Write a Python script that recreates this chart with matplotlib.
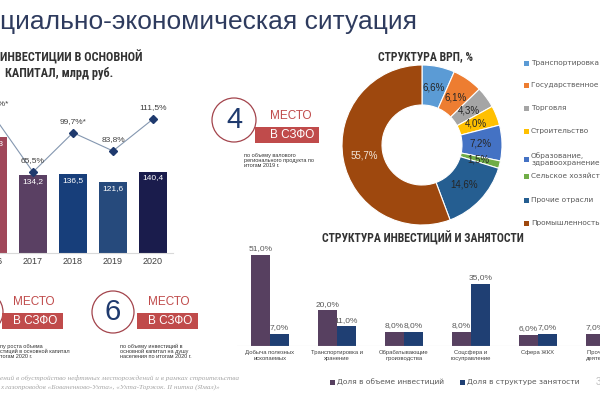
import matplotlib
matplotlib.use('Agg')
import matplotlib.pyplot as plt
import numpy as np
from matplotlib import font_manager
from matplotlib.patches import Circle, Rectangle

# инвестиции в основной капитал
years = ['2016', '2017', '2018', '2019', '2020']
invest = [199.3, 134.2, 136.5, 121.6, 140.4]
growth = [115.0, 65.5, 99.7, 83.8, 111.5]
growth_mark = ['*', '', '*', '', '']

# структура ВРП
grp_labels = ['Транспортировка', 'Государственное управление', 'Торговля',
              'Строительство', 'Образование,\nздравоохранение',
              'Сельское хозяйство', 'Прочие отрасли', 'Промышленность']
grp_share = [6.6, 6.1, 4.3, 4.0, 7.2, 1.5, 14.6, 55.7]

# структура инвестиций и занятости
sectors = ['Добыча полезных\nископаемых', 'Транспортировка и\nхранение',
           'Обрабатывающие\nпроизводства', 'Соцсфера и\nгосуправление',
           'Сфера ЖКХ', 'Прочие виды\nдеятельности']
inv_share = [51.0, 20.0, 8.0, 8.0, 6.0, 7.0]
emp_share = [7.0, 11.0, 8.0, 35.0, 7.0, 32.0]
series_names = ['Доля в объеме инвестиций', 'Доля в структуре занятости']

plt.rcParams['font.family'] = ['Liberation Sans', 'DejaVu Sans']


def pick_condensed():
    # ищем узкий шрифт для заголовков
    names = {f.name for f in font_manager.fontManager.ttflist}
    for nm in ['Roboto Condensed', 'Liberation Sans Narrow', 'Open Sans Condensed']:
        if nm in names:
            return nm, 'normal'
    for f in font_manager.fontManager.ttflist:
        if f.name in ('DejaVu Sans', 'Noto Sans', 'Open Sans', 'Roboto') and \
                str(f.stretch) in ('condensed', 'semi-condensed'):
            return f.name, f.stretch
    return 'Liberation Sans', 'normal'


NARROW, STRETCH = pick_condensed()
HEAD = dict(family=[NARROW, 'DejaVu Sans'], fontstretch=STRETCH, fontweight='bold',
            color='#333333')

W, H = 600, 400
RED = '#C04B4B'
NAVY = '#1F3A6E'
GRAY = '#404040'


def box(x0, y0, x1, y1):
    # пиксели -> доли фигуры
    return [x0 / W, 1 - y1 / H, (x1 - x0) / W, (y1 - y0) / H]


def num(v, suffix=''):
    return f'{v:.1f}'.replace('.', ',') + suffix


fig = plt.figure(figsize=(6, 4), dpi=100)

# фон с текстами и плашками, координаты в пикселях
bg = fig.add_axes([0, 0, 1, 1])
bg.set_xlim(0, W)
bg.set_ylim(H, 0)
bg.axis('off')

bg.text(0, 29, 'циально-экономическая ситуация', fontsize=19, color='#2E3B5E',
        va='baseline')
bg.text(0, 57, 'ИНВЕСТИЦИИ В ОСНОВНОЙ', fontsize=8.8, va='center', **HEAD)
bg.text(5, 73, 'КАПИТАЛ, млрд руб.', fontsize=8.8, va='center', **HEAD)


def place_block(cx, cy, r, digit, x_rect, y_rect, w_rect, note, x_note, y_note, pad=11):
    bg.add_patch(Circle((cx, cy), r, facecolor='white', edgecolor='#A3444C', lw=0.9, zorder=2))
    bg.add_patch(Rectangle((x_rect, y_rect), w_rect, 16, facecolor=RED, lw=0, zorder=3))
    if digit:
        bg.text(cx, cy, digit, fontsize=21, color=NAVY, ha='center', va='center', zorder=4)
    bg.text(x_rect + pad, y_rect - 11, 'МЕСТО', fontsize=8.5, color=RED, va='center')
    bg.text(x_rect + pad, y_rect + 8, 'В СЗФО', fontsize=8.5, color='white', va='center', zorder=4)
    bg.text(x_note, y_note, note, fontsize=4, color='#333333', va='top', linespacing=1.0)


place_block(234, 120, 22, '4', 255, 127, 64,
            'по объему валового\nрегионального продукта по\nитогам 2019 г.', 244, 153, pad=15)
place_block(-18, 312, 21, '', 2, 313, 61,
            'пу роста объема\nстиций в основной капитал\nтогам 2020 г.', 0, 344)
place_block(113, 312, 21, '6', 137, 313, 61,
            'по объему инвестиций в\nосновной капитал на душу\nнаселения по итогам 2020 г.', 120, 344)

bg.text(0, 378, 'ений в обустройство нефтяных месторождений и в рамках строительства',
        family='Liberation Serif', style='italic', fontsize=5.2, color='#A6A6A6', va='center')
bg.text(0, 387, 'х газопроводов «Бованенково-Ухта», «Ухта-Торжок. II нитка (Ямал)»',
        family='Liberation Serif', style='italic', fontsize=5.2, color='#A6A6A6', va='center')

# левый график: столбцы + темп роста
ax1 = fig.add_axes(box(-27, 108, 173, 253))
x = np.arange(len(years))
bar_colors = ['#A0475A', '#5A4063', '#173E7A', '#264A7C', '#1A1C4C']
bars = ax1.bar(x, invest, width=0.7, color=bar_colors)
ax1.set_xlim(-0.5, 4.5)
ax1.set_ylim(0, 250)
for s in ['top', 'right', 'left']:
    ax1.spines[s].set_visible(False)
ax1.spines['bottom'].set_color('#D9D9D9')
ax1.set_yticks([])
ax1.set_xticks(x, years)
ax1.tick_params(length=0, labelsize=6.5, colors=GRAY, pad=3)
ax1.patch.set_alpha(0)
for b, v in zip(bars, invest):
    ax1.text(b.get_x() + b.get_width() / 2, v - 5, num(v), ha='center', va='top',
             color='white', fontsize=6)

ax1b = ax1.twinx()
ax1b.set_ylim(-4.8, 121.1)
ax1b.axis('off')
ax1b.plot(x, growth, color='#8497B0', lw=0.8, marker='D', ms=4.5,
          mfc=NAVY, mec=NAVY, clip_on=False)
for xi, g, m in zip(x, growth, growth_mark):
    ax1b.annotate(num(g, '%' + m), (xi, g), xytext=(0, 8), textcoords='offset points',
                  ha='center', va='center', fontsize=6, color=GRAY, annotation_clip=False)

# кольцевая диаграмма ВРП
grp_colors = ['#5B9BD5', '#ED7D31', '#A5A5A5', '#FFC000', '#4472C4', '#70AD47',
              '#255E91', '#9E480E']
ax2 = fig.add_axes(box(342, 65, 502, 225))
wedges, _, pct = ax2.pie(grp_share, colors=grp_colors, startangle=90, counterclock=False,
                         wedgeprops=dict(width=0.5, edgecolor='white', lw=0.8),
                         autopct=lambda p: num(p, '%'), pctdistance=0.73,
                         textprops=dict(fontsize=7, color='#262626'))
ax2.set_xlim(-1, 1)
ax2.set_ylim(-1, 1)
pct[-1].set_color('#F2E6DA')
bg.text(425, 57, 'СТРУКТУРА ВРП, %', fontsize=8.5, ha='center', va='center', **HEAD)
leg_y = [63, 85, 108, 131, 159, 176, 200, 223]
for lab, c, y in zip(grp_labels, grp_colors, leg_y):
    bg.add_patch(Rectangle((524, y - 2.5), 5, 5, facecolor=c, lw=0))
    bg.text(531, y, lab, family='DejaVu Sans', fontsize=5.3, color='#595959',
            va='center', linespacing=1.1)

# структура инвестиций и занятости
bar_c = ['#574060', '#1F3F73']
ax3 = fig.add_axes(box(236.5, 248, 600, 346))
xs = np.arange(len(sectors))
bw = 0.284
for k, (vals, c) in enumerate(zip([inv_share, emp_share], bar_c)):
    pos = xs + (k - 0.5) * bw
    ax3.bar(pos, vals, bw, color=c)
    for p, v in zip(pos, vals):
        ax3.annotate(num(v, '%'), (p, v), xytext=(0, 2), textcoords='offset points',
                     ha='center', va='bottom', fontsize=6, color='#595959',
                     annotation_clip=False)
for xi, lab in zip(xs, sectors):
    ax3.annotate(lab, (xi, 0), xytext=(0, -3), textcoords='offset points', ha='center',
                 va='top', fontsize=4.2, color=GRAY, annotation_clip=False,
                 linespacing=1.15)
ax3.set_xlim(-0.5, 4.93)
ax3.set_ylim(0, 55)
ax3.axis('off')
ax3.axhline(0, color='#D9D9D9', lw=0.8)
bg.text(423, 238, 'СТРУКТУРА ИНВЕСТИЦИЙ И ЗАНЯТОСТИ', fontsize=8.5, ha='center',
        va='center', **HEAD)
for name, c, lx in zip(series_names, bar_c, [330, 460]):
    bg.add_patch(Rectangle((lx, 379.5), 5, 5, facecolor=c, lw=0))
    bg.text(lx + 7, 382, name, family='DejaVu Sans', fontsize=5.4, color='#595959',
            va='center')
bg.text(596, 382, '3', fontsize=7, color='#BFBFBF', va='center')

fig.savefig('out.png', dpi=100)
